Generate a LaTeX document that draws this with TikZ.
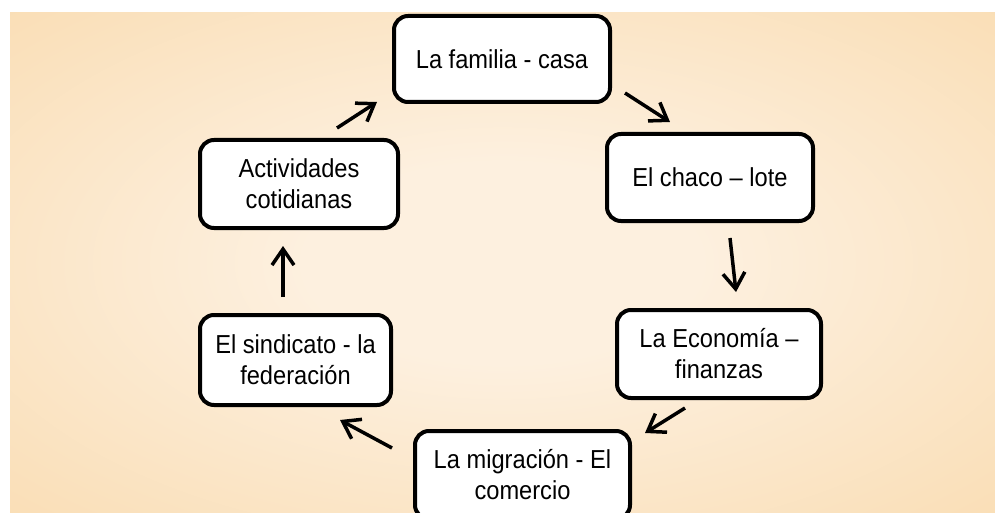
\documentclass[tikz,border=0pt]{standalone}
\usepackage{fontspec}
\setmainfont{Liberation Sans}[FakeStretch=0.91]
\usetikzlibrary{arrows.meta}
\definecolor{bgcenter}{RGB}{253,240,223}
\definecolor{bgedge}{RGB}{248,215,166}
\pgfdeclareradialshading{bgglow}{\pgfpoint{0bp}{0bp}}{color(0bp)=(bgcenter); color(10bp)=(bgcenter); color(46bp)=(bgedge); color(70bp)=(bgedge)}
\begin{document}
\begin{tikzpicture}[x=1pt, y=-1pt,
 box/.style={draw, line width=4pt, rounded corners=14pt, fill=white, align=center, inner sep=0pt, font=\fontsize{26}{31}\selectfont},
 link/.style={line width=3.5pt, -{Straight Barb[length=16pt, width=22pt]}}]
 \useasboundingbox (0,0) rectangle (995,513);
 \clip (0,0) rectangle (995,513);
 \shade[shading=bgglow] (10,13) rectangle (995,513);
 \node[box, minimum width=216pt, minimum height=86pt] (familia) at (502,59) {La familia - casa};
 \node[box, minimum width=206pt, minimum height=87pt] (chaco) at (710,177.5) {El chaco -- lote};
 \node[box, minimum width=204pt, minimum height=88pt] (economia) at (719,354) {La Economía --\\finanzas};
 \node[box, minimum width=215pt, minimum height=88pt] (migracion) at (522.5,475) {La migración - El\\comercio};
 \node[box, minimum width=191pt, minimum height=90pt] (sindicato) at (295.5,360) {El sindicato - la\\federación};
 \node[box, minimum width=198pt, minimum height=88pt] (actividades) at (299,184) {Actividades\\cotidianas};
 \coordinate (fc1) at (625,93);  \coordinate (fc2) at (670,122);
 \coordinate (ce1) at (730,238); \coordinate (ce2) at (736,292);
 \coordinate (em1) at (685,408); \coordinate (em2) at (645,433);
 \coordinate (ms1) at (392,448); \coordinate (ms2) at (340,420);
 \coordinate (sa1) at (283,297); \coordinate (sa2) at (283,246);
 \coordinate (af1) at (337,128); \coordinate (af2) at (377,102);
 \draw[link] (fc1) -- (fc2);
 \draw[link] (ce1) -- (ce2);
 \draw[link] (em1) -- (em2);
 \draw[link] (ms1) -- (ms2);
 \draw[link] (sa1) -- (sa2);
 \draw[link] (af1) -- (af2);
\end{tikzpicture}
\end{document}
